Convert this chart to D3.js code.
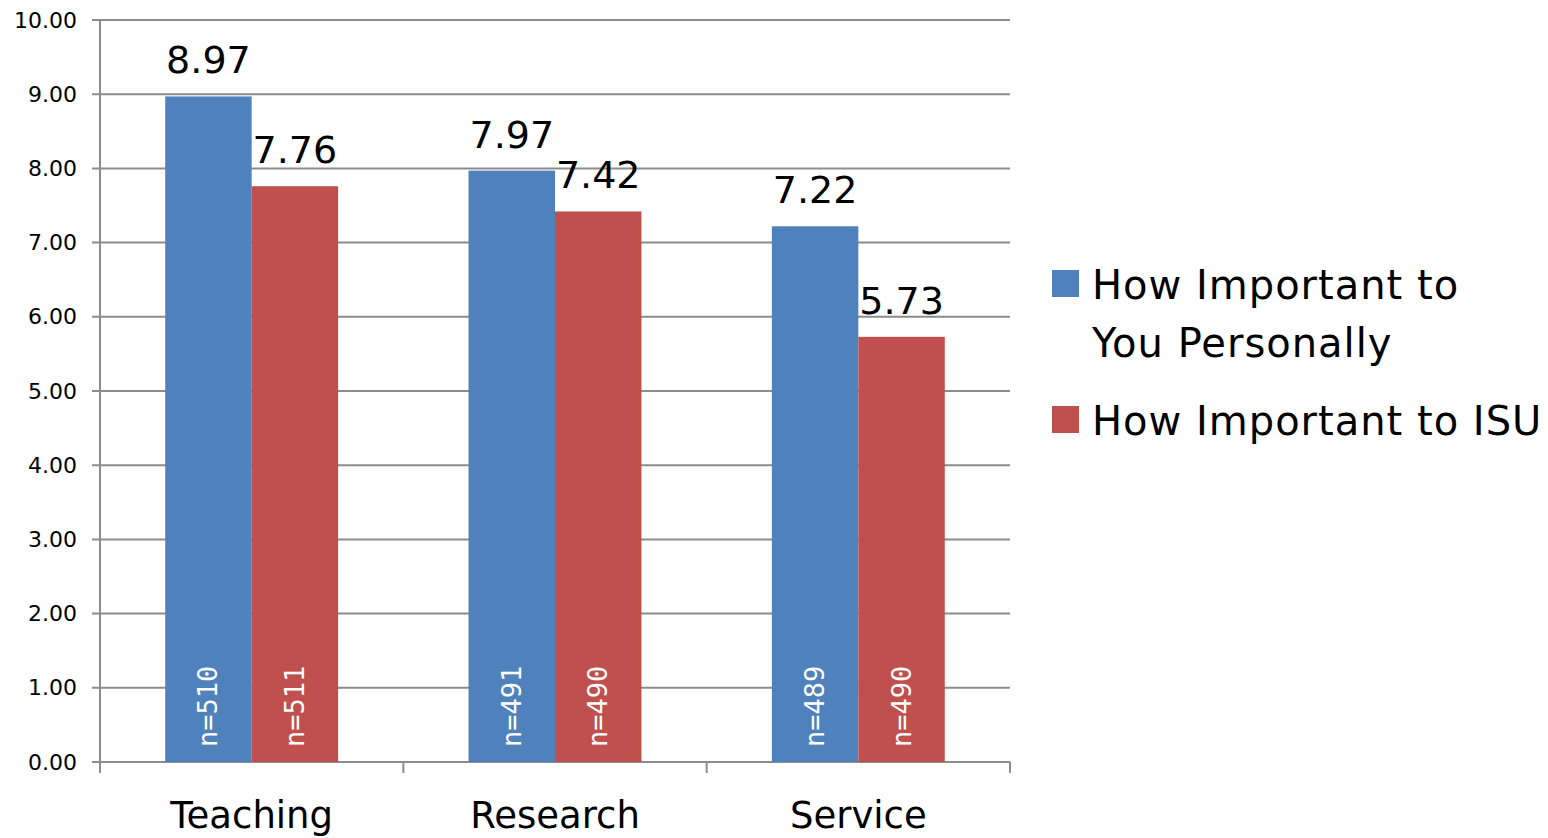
<!DOCTYPE html>
<html>
<head>
<meta charset="utf-8">
<script src="https://cdn.jsdelivr.net/npm/d3@7"></script>
<style>
  body { margin: 0; background: #fff; }
  text { font-family: "DejaVu Sans", "Liberation Sans", sans-serif; }
</style>
</head>
<body>
<div id="chart"></div>
<script>
var categories = ["Teaching", "Research", "Service"];
var seriesNames = ["How Important to You Personally", "How Important to ISU"];
var personal = [8.97, 7.97, 7.22];
var isu = [7.76, 7.42, 5.73];
var personalN = [510, 491, 489];
var isuN = [511, 490, 490];
var yTicks = [0, 1, 2, 3, 4, 5, 6, 7, 8, 9, 10];

var width = 1548, height = 838;
var plotLeft = 100, plotRight = 1010, plotTop = 20, plotBottom = 762;
var colors = ["#4f81bd", "#c0504d"];

var svg = d3.select("#chart").append("svg")
    .attr("width", width)
    .attr("height", height);

var x0 = d3.scaleBand()
    .domain(categories)
    .range([plotLeft, plotRight])
    .paddingInner(0.43)
    .paddingOuter(0.215);

var x1 = d3.scaleBand()
    .domain([0, 1])
    .range([0, x0.bandwidth()]);

var y = d3.scaleLinear()
    .domain([0, 10])
    .range([plotBottom, plotTop]);

// gridlines
svg.append("g")
  .selectAll("line")
  .data(yTicks)
  .enter().append("line")
    .attr("x1", plotLeft - 8)
    .attr("x2", plotRight)
    .attr("y1", function(d) { return y(d); })
    .attr("y2", function(d) { return y(d); })
    .attr("stroke", "#8c8c8c")
    .attr("stroke-width", 2);

// y axis
var yAxis = svg.append("g")
    .attr("transform", "translate(" + plotLeft + ",0)")
    .call(d3.axisLeft(y).tickValues(yTicks).tickSize(0).tickPadding(23)
      .tickFormat(d3.format(".2f")));
yAxis.select(".domain").remove();
yAxis.selectAll("text")
    .style("font-size", "22px")
    .style("font-family", "'DejaVu Sans', sans-serif")
    .attr("fill", "#000");
svg.append("line")
    .attr("x1", plotLeft).attr("x2", plotLeft)
    .attr("y1", plotTop).attr("y2", plotBottom + 11)
    .attr("stroke", "#8c8c8c").attr("stroke-width", 2);

// x axis ticks at category boundaries
var step = (plotRight - plotLeft) / categories.length;
svg.append("g")
  .selectAll("line")
  .data(d3.range(categories.length + 1))
  .enter().append("line")
    .attr("x1", function(i) { return plotLeft + i * step; })
    .attr("x2", function(i) { return plotLeft + i * step; })
    .attr("y1", plotBottom)
    .attr("y2", plotBottom + 11)
    .attr("stroke", "#8c8c8c")
    .attr("stroke-width", 2);

var xAxis = svg.append("g")
    .attr("transform", "translate(0," + plotBottom + ")")
    .call(d3.axisBottom(x0).tickSize(0).tickPadding(40));
xAxis.select(".domain").remove();
xAxis.selectAll("text")
    .style("font-size", "37px")
    .style("font-family", "'DejaVu Sans', sans-serif")
    .attr("fill", "#000");

var rows = categories.map(function(c, i) {
  return {cat: c, vals: [personal[i], isu[i]], ns: [personalN[i], isuN[i]]};
});

var group = svg.append("g")
  .selectAll("g")
  .data(rows)
  .enter().append("g")
    .attr("transform", function(d) { return "translate(" + x0(d.cat) + ",0)"; });

var bar = group.selectAll("g")
  .data(function(d) {
    return d.vals.map(function(v, s) { return {s: s, v: v, n: d.ns[s]}; });
  })
  .enter().append("g");

bar.append("rect")
    .attr("x", function(d) { return x1(d.s); })
    .attr("y", function(d) { return y(d.v); })
    .attr("width", x1.bandwidth())
    .attr("height", function(d) { return y(0) - y(d.v); })
    .attr("fill", function(d) { return colors[d.s]; });

bar.append("text")
    .attr("x", function(d) { return x1(d.s) + x1.bandwidth() / 2; })
    .attr("y", function(d) { return y(d.v) - 23; })
    .attr("text-anchor", "middle")
    .style("font-size", "38px")
    .attr("fill", "#000")
    .text(function(d) { return d.v.toFixed(2); });

bar.append("text")
    .attr("transform", function(d) {
      return "translate(" + (x1(d.s) + x1.bandwidth() / 2 + 9) + "," + (plotBottom - 15) + ") rotate(-90)";
    })
    .style("font-size", "27px")
    .style("font-family", "'DejaVu Sans Mono', monospace")
    .attr("fill", "#fff")
    .text(function(d) { return "n=" + d.n; });

// legend
var legend = svg.append("g").attr("transform", "translate(1052,0)");
var legendLines = [["How Important to", "You Personally"], ["How Important to ISU"]];
var legendY = [270, 406];
legendLines.forEach(function(lines, s) {
  legend.append("rect")
      .attr("x", 0).attr("y", legendY[s])
      .attr("width", 27).attr("height", 27)
      .attr("fill", colors[s]);
  lines.forEach(function(t, k) {
    legend.append("text")
        .attr("x", 40)
        .attr("y", legendY[s] + 29 + k * 58)
        .style("font-size", "40px")
        .style("letter-spacing", "1px")
        .attr("fill", "#000")
        .text(t);
  });
});
</script>
</body>
</html>
